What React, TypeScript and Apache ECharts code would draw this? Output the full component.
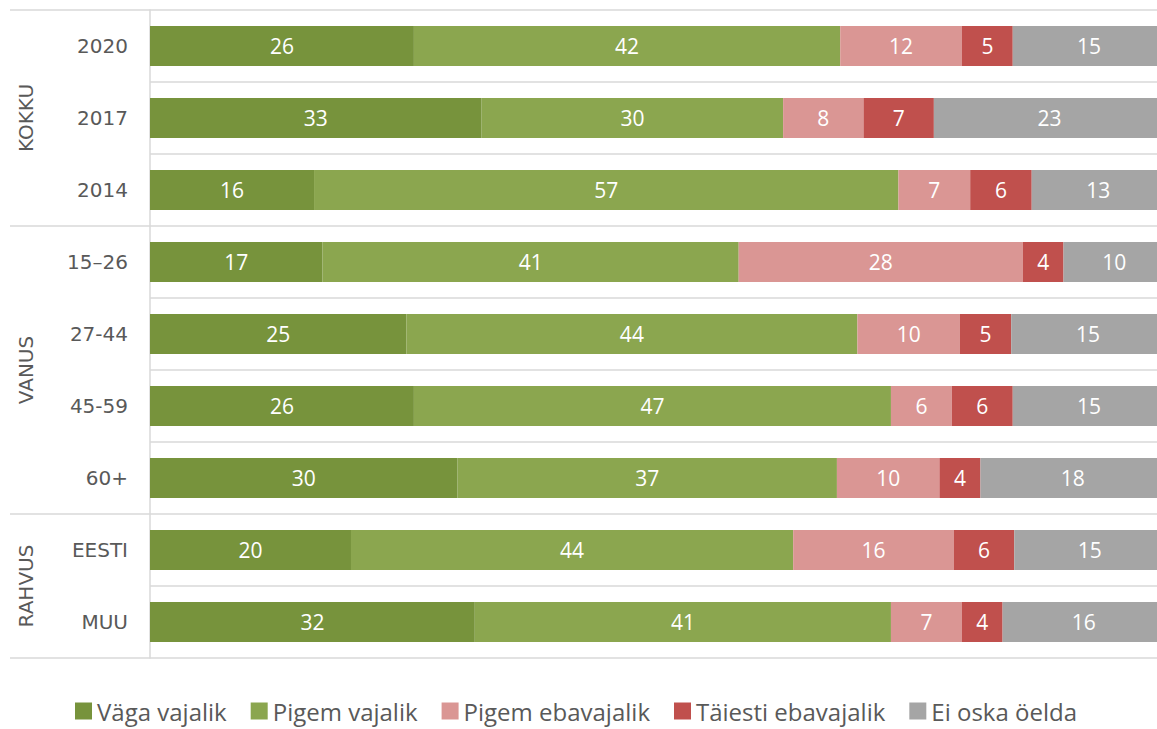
import React, { useEffect, useRef } from "react";
import * as echarts from "echarts";

const categories = ["2020", "2017", "2014", "15–26", "27-44", "45-59", "60+", "EESTI", "MUU"];
const groupNames = ["KOKKU", "VANUS", "RAHVUS"];
const groupSizes = [3, 4, 2];

const seriesNames = ["Väga vajalik", "Pigem vajalik", "Pigem ebavajalik", "Täiesti ebavajalik", "Ei oska öelda"];
const vagaVajalik = [26, 33, 16, 17, 25, 26, 30, 20, 32];
const pigemVajalik = [42, 30, 57, 41, 44, 47, 37, 44, 41];
const pigemEbavajalik = [12, 8, 7, 28, 10, 6, 10, 16, 7];
const taiestiEbavajalik = [5, 7, 6, 4, 5, 6, 4, 6, 4];
const eiOskaOelda = [15, 23, 13, 10, 15, 15, 18, 15, 16];

const seriesColors = ["#77933C", "#8BA64F", "#DA9694", "#C0504D", "#A5A5A5"];

const FONT = "'Open Sans', 'Noto Sans', sans-serif";
const AXIS_FONT = "'DejaVu Sans', sans-serif";
const GRID_LEFT = 150;
const GRID_TOP = 10;
const GRID_BOTTOM = 71;
const HEIGHT = 729;
const WIDTH = 1157;
const CHART_WIDTH = 1165;
const LINE = "#D9D9D9";

export default function App() {
  const ref = useRef<HTMLDivElement>(null);

  useEffect(() => {
    if (!ref.current) return;
    const chart = echarts.init(ref.current, undefined, { renderer: "svg" });
    const raw = [vagaVajalik, pigemVajalik, pigemEbavajalik, taiestiEbavajalik, eiOskaOelda];
    const sums = categories.map((_, i) => raw.reduce((s, arr) => s + arr[i], 0));

    const plotH = HEIGHT - GRID_TOP - GRID_BOTTOM;
    const band = plotH / categories.length;

    const graphics: any[] = [];
    let idx = 0;
    const boundaries = [0];
    groupSizes.forEach((n) => {
      idx += n;
      boundaries.push(idx);
    });
    boundaries.forEach((b) => {
      const y = GRID_TOP + b * band;
      graphics.push({
        type: "line",
        shape: { x1: 10, y1: y, x2: GRID_LEFT, y2: y },
        style: { stroke: LINE, lineWidth: 1.5 },
        silent: true,
      });
    });
    groupNames.forEach((name, gi) => {
      const y0 = GRID_TOP + boundaries[gi] * band;
      const y1 = GRID_TOP + boundaries[gi + 1] * band;
      graphics.push({
        type: "text",
        x: 26,
        y: (y0 + y1) / 2,
        rotation: Math.PI / 2,
        style: {
          text: name,
          font: `20px ${AXIS_FONT}`,
          fill: "#595959",
          align: "center",
          verticalAlign: "middle",
        },
        silent: true,
      });
    });

    chart.setOption({
      animation: false,
      grid: { left: GRID_LEFT, right: 0, top: GRID_TOP, bottom: GRID_BOTTOM, containLabel: false },
      xAxis: { type: "value", min: 0, max: 100, show: false },
      yAxis: {
        type: "category",
        data: categories,
        inverse: true,
        axisLine: { show: true, lineStyle: { color: LINE, width: 1.5 } },
        axisTick: { show: false },
        splitLine: { show: true, lineStyle: { color: LINE, width: 1.5 } },
        axisLabel: { color: "#595959", fontFamily: AXIS_FONT, fontSize: 20, margin: 22 },
      },
      legend: {
        bottom: 1,
        left: 70,
        itemWidth: 17,
        itemHeight: 17,
        itemGap: 24,
        icon: "rect",
        textStyle: { color: "#595959", fontFamily: FONT, fontSize: 24 },
        data: seriesNames,
      },
      graphic: graphics,
      series: raw.map((arr, si) => ({
        name: seriesNames[si],
        type: "bar",
        stack: "total",
        barWidth: 40,
        itemStyle: { color: seriesColors[si] },
        label: {
          show: true,
          position: "inside",
          color: "#FFFFFF",
          fontFamily: FONT,
          fontSize: 21,
          formatter: (p: any) => String(raw[si][p.dataIndex]),
        },
        data: arr.map((v, i) => (v / sums[i]) * 100),
      })),
    });
    return () => chart.dispose();
  }, []);

  return (
    <div
      style={{ position: "fixed", left: 0, top: 0, width: WIDTH, height: HEIGHT, overflow: "hidden", background: "#fff" }}
    >
      <div ref={ref} style={{ width: CHART_WIDTH, height: HEIGHT }} />
    </div>
  );
}
